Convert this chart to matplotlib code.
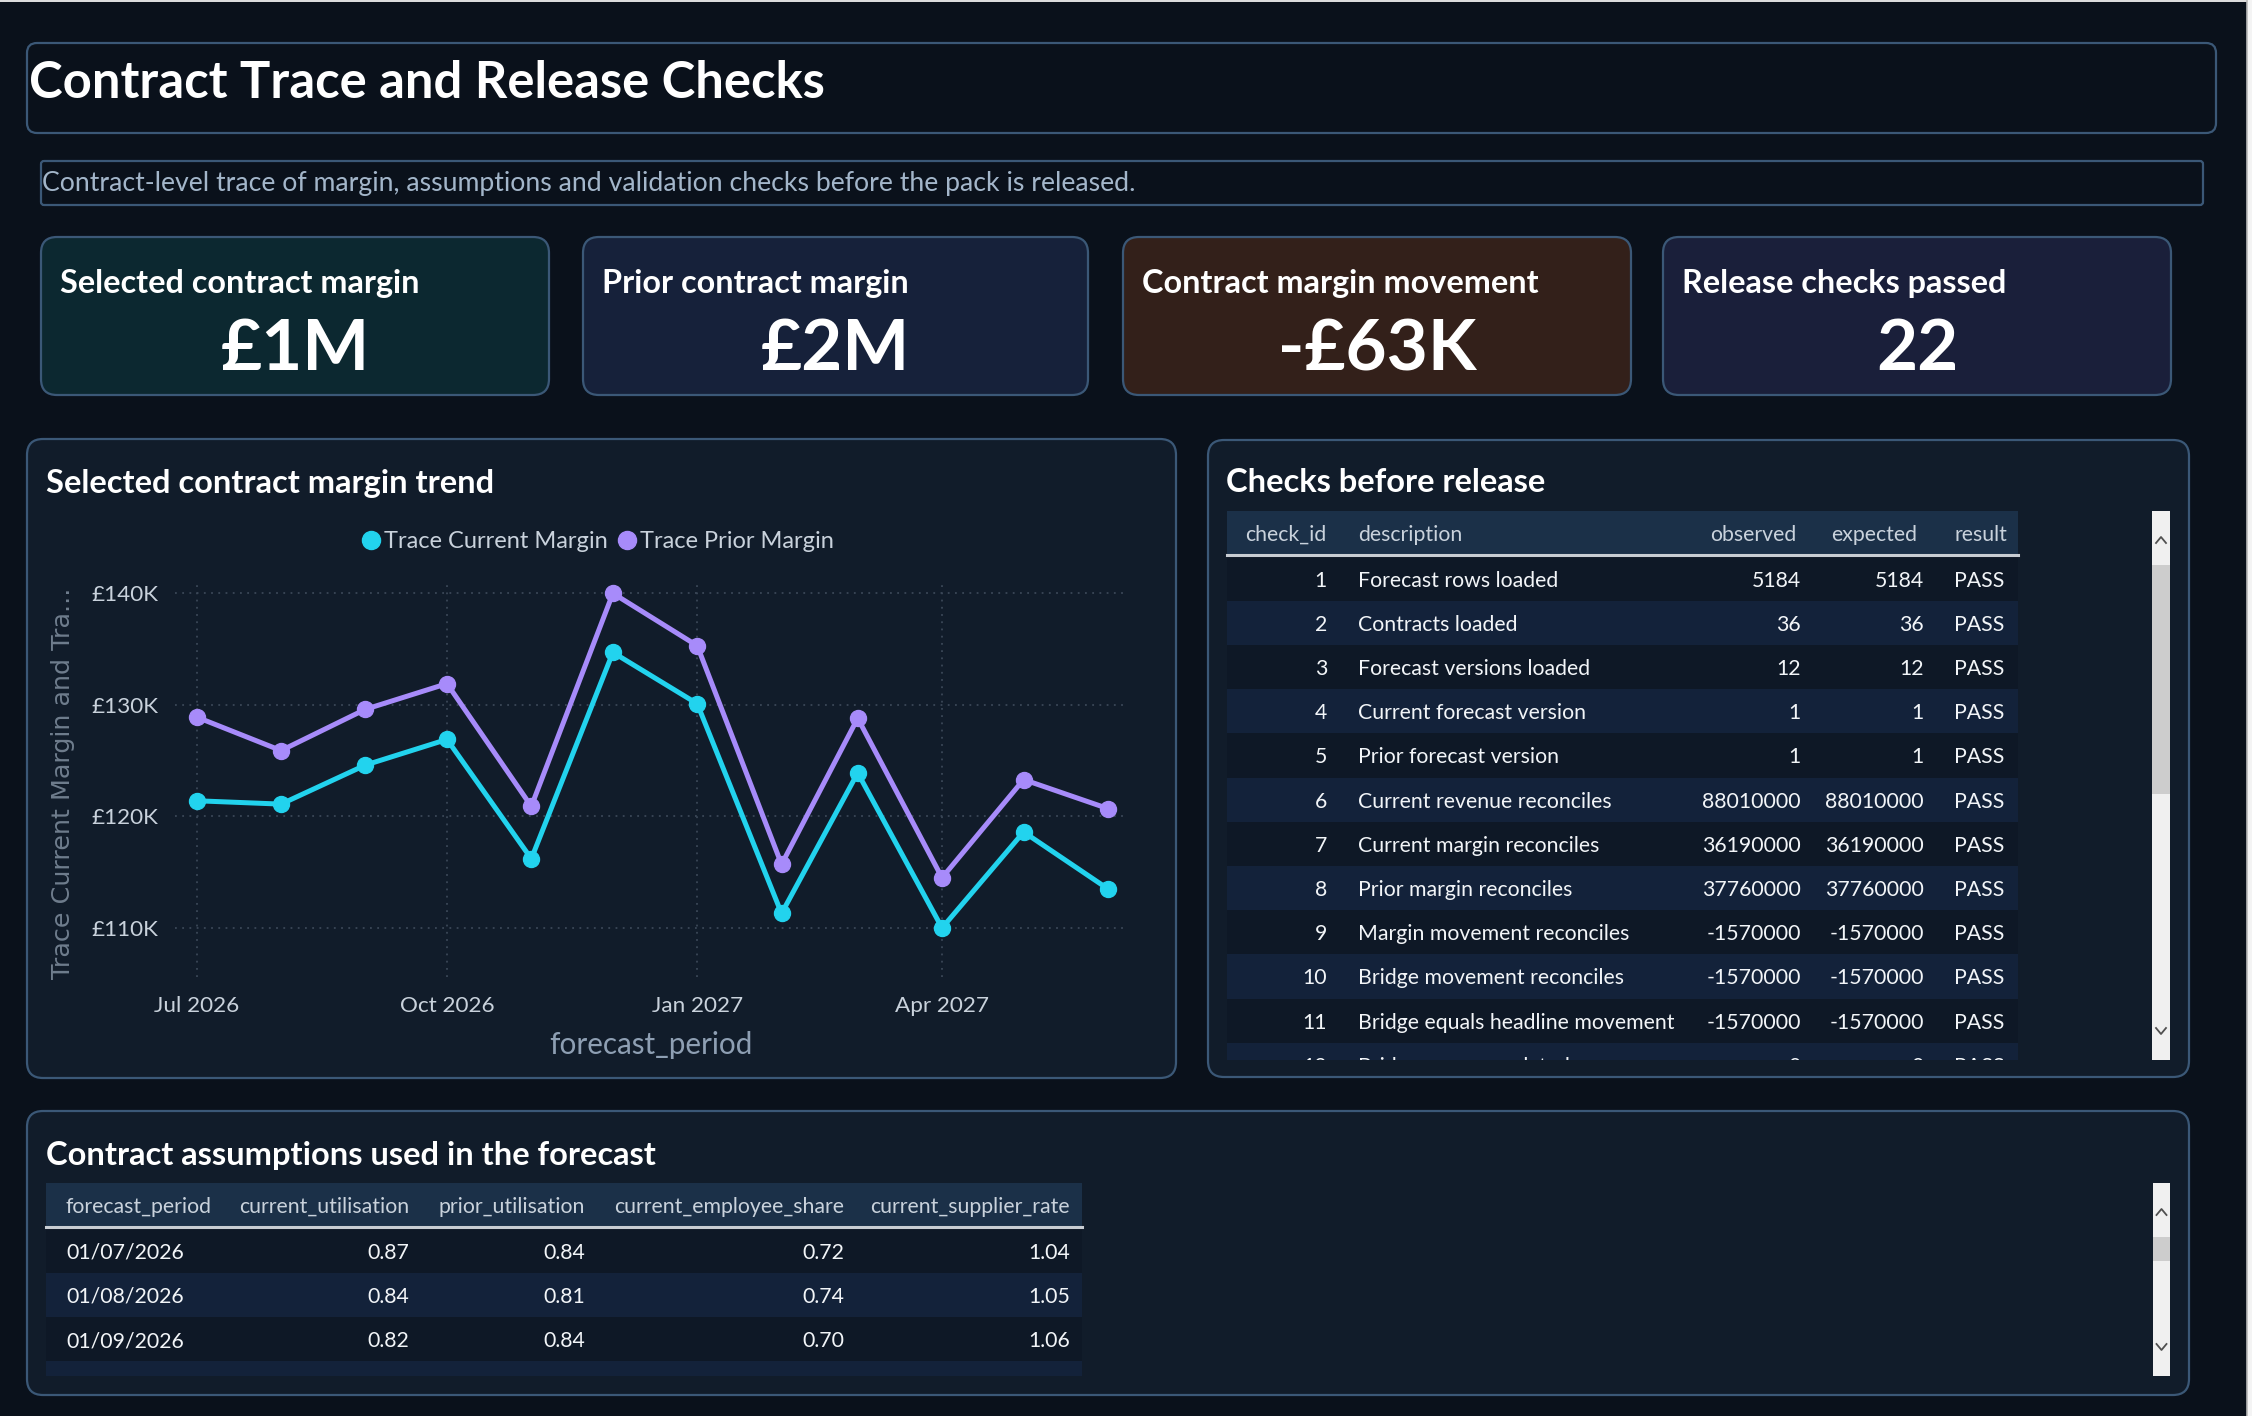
import matplotlib
matplotlib.use("Agg")
import matplotlib.pyplot as plt
import matplotlib.dates as mdates
from matplotlib.patches import FancyBboxPatch, Rectangle
from matplotlib.lines import Line2D
from matplotlib.ticker import FuncFormatter, MultipleLocator
import datetime as dt

# ---------------- data ----------------
title = "Contract Trace and Release Checks"
subtitle = "Contract-level trace of margin, assumptions and validation checks before the pack is released."

kpi_labels = ["Selected contract margin", "Prior contract margin", "Contract margin movement", "Release checks passed"]
kpi_values = ["£1M", "£2M", "-£63K", "22"]

periods = ["2026-07-01", "2026-08-01", "2026-09-01", "2026-10-01", "2026-11-01", "2026-12-01",
           "2027-01-01", "2027-02-01", "2027-03-01", "2027-04-01", "2027-05-01", "2027-06-01"]
current_margin = [121400, 121100, 124600, 126900, 116200, 134700, 130100, 111300, 123900, 110000, 118600, 113500]
prior_margin = [128900, 125900, 129600, 131900, 120900, 140000, 135300, 115700, 128800, 114500, 123300, 120700]

check_cols = ["check_id", "description", "observed", "expected", "result"]
check_ids = [1, 2, 3, 4, 5, 6, 7, 8, 9, 10, 11, 12]
check_desc = ["Forecast rows loaded", "Contracts loaded", "Forecast versions loaded", "Current forecast version",
              "Prior forecast version", "Current revenue reconciles", "Current margin reconciles",
              "Prior margin reconciles", "Margin movement reconciles", "Bridge movement reconciles",
              "Bridge equals headline movement", "Bridge rows populated"]
check_observed = [5184, 36, 12, 1, 1, 88010000, 36190000, 37760000, -1570000, -1570000, -1570000, 0]
check_expected = [5184, 36, 12, 1, 1, 88010000, 36190000, 37760000, -1570000, -1570000, -1570000, 0]
check_result = ["PASS"] * 12

assump_cols = ["forecast_period", "current_utilisation", "prior_utilisation", "current_employee_share", "current_supplier_rate"]
assump_period = ["01/07/2026", "01/08/2026", "01/09/2026"]
assump_cur_util = [0.87, 0.84, 0.82]
assump_prior_util = [0.84, 0.81, 0.84]
assump_emp_share = [0.72, 0.74, 0.70]
assump_supplier = [1.04, 1.05, 1.06]

# ---------------- style ----------------
W, H = 2252, 1416
FONT = ["Lato", "DejaVu Sans"]
plt.rcParams["font.family"] = FONT

BG = "#0a111b"
PANEL = "#111c2a"
BORDER = "#3b5877"
CARD_COLORS = ["#0c2830", "#16213a", "#33201a", "#1a1f3a"]
CYAN = "#22d3ee"
PURPLE = "#a78bfa"
HEADER_BG = "#1b3048"
ROW_A = "#0e1826"
ROW_B = "#13223a"
TXT = "#f2f5f8"
TXT_DIM = "#c9d2dc"
GRAY = "#6f7d8d"
TBL_FS = 15.3

fig = plt.figure(figsize=(W / 100, H / 100), dpi=100, facecolor=BG)
bg = fig.add_axes([0, 0, 1, 1], zorder=0)
bg.set_xlim(0, W)
bg.set_ylim(H, 0)
bg.axis("off")


def rbox(x0, y0, x1, y1, fc, ec=BORDER, r=14, lw=1.6, z=1):
    p = FancyBboxPatch((x0, y0), x1 - x0, y1 - y0, boxstyle=f"round,pad=0,rounding_size={r}",
                       fc=fc, ec=ec, lw=lw, zorder=z)
    bg.add_patch(p)
    return p


# page edges
bg.add_patch(Rectangle((2247, 0), 5, H, fc="#f4f4f4", ec="none", zorder=0.5))
bg.plot([2247, 2247], [0, H], color="#b8b8b8", lw=1.2, zorder=0.6)
bg.add_patch(Rectangle((0, 0), 2247, 2, fc="#dcdcdc", ec="none", zorder=0.5))

# title
rbox(27, 43, 2216, 133, BG, r=10)
bg.text(29, 84, title, color="white", fontsize=36.5, fontweight="bold", va="center", ha="left", zorder=3)

# subtitle
rbox(41, 161, 2203, 205, BG, r=3)
bg.text(42, 184, subtitle, color="#a3b6ca", fontsize=19.2, va="center", ha="left", zorder=3)

# KPI cards
card_x = [(41, 549), (583, 1088), (1123, 1631), (1663, 2171)]
for (x0, x1), fc, lab, val in zip(card_x, CARD_COLORS, kpi_labels, kpi_values):
    rbox(x0, 237, x1, 395, fc, r=16)
    bg.text(x0 + 19, 283, lab, color="white", fontsize=23.3, fontweight="bold", va="center", ha="left", zorder=3)
    bg.text((x0 + x1) / 2, 350, val, color="white", fontsize=51, fontweight="bold", va="center", ha="center", zorder=3)

# chart panel
rbox(27, 439, 1176, 1078, PANEL, r=16)
bg.text(46, 484, "Selected contract margin trend", color="white", fontsize=23.5, fontweight="bold",
        va="center", ha="left", zorder=3)

# checks panel
rbox(1208, 440, 2189, 1077, PANEL, r=16)
bg.text(1226, 483, "Checks before release", color="white", fontsize=23.5, fontweight="bold",
        va="center", ha="left", zorder=3)

# assumptions panel
rbox(27, 1111, 2189, 1395, PANEL, r=16)
bg.text(46, 1155, "Contract assumptions used in the forecast", color="white", fontsize=23.5, fontweight="bold",
        va="center", ha="left", zorder=3)

# ---------------- line chart ----------------
ax0, ax1, ay0, ay1 = 175, 1127, 583.6, 977
ax = fig.add_axes([ax0 / W, 1 - ay1 / H, (ax1 - ax0) / W, (ay1 - ay0) / H], zorder=5)
ax.set_facecolor("none")
dates = [dt.datetime.strptime(p, "%Y-%m-%d") for p in periods]
ax.plot(dates, current_margin, color=CYAN, lw=3.6, marker="o", ms=11.5, zorder=4, label="Trace Current Margin")
ax.plot(dates, prior_margin, color=PURPLE, lw=3.6, marker="o", ms=11.5, zorder=3, label="Trace Prior Margin")
ax.set_xlim(dt.datetime(2026, 6, 23), dt.datetime(2027, 6, 8))
ax.set_ylim(105600, 140870)
ax.yaxis.set_major_locator(MultipleLocator(10000))
ax.yaxis.set_major_formatter(FuncFormatter(lambda v, p: f"£{v/1000:.0f}K"))
ax.xaxis.set_major_locator(mdates.MonthLocator(bymonth=[1, 4, 7, 10]))
ax.xaxis.set_major_formatter(mdates.DateFormatter("%b %Y"))
ax.grid(True, color="#3a4757", linestyle=(0, (1, 3)), lw=1.3)
for s in ax.spines.values():
    s.set_visible(False)
ax.tick_params(length=0, colors=TXT_DIM, labelsize=16.2)
ax.tick_params(axis="y", pad=12)
ax.tick_params(axis="x", pad=14)
ax.set_xlabel("forecast_period", color="#8e9fb3", fontsize=21.3)
ax.xaxis.set_label_coords(0.5, -(1045 - ay1) / (ay1 - ay0))
ax.xaxis.label.set_va("center")
ax.set_ylabel("Trace Current Margin and Tra...", color=GRAY, fontsize=18.3, family=["DejaVu Sans"])
ax.yaxis.set_label_coords(-(ax0 - 63) / (ax1 - ax0), (ay1 - 783) / (ay1 - ay0))
ax.yaxis.label.set_va("center")
handles = [Line2D([], [], color=CYAN, marker="o", ls="none", ms=13),
           Line2D([], [], color=PURPLE, marker="o", ls="none", ms=13)]
leg = ax.legend(handles, ["Trace Current Margin", "Trace Prior Margin"], loc="center",
                bbox_to_anchor=((598 - ax0) / (ax1 - ax0), (ay1 - 541.5) / (ay1 - ay0)),
                ncol=2, frameon=False, fontsize=17, labelcolor=TXT_DIM, handlelength=0.7,
                handletextpad=0.2, columnspacing=0.45)

# ---------------- checks table ----------------
tx0, tx1 = 1227, 2018
hy0, hy1 = 511, 555
row_h = 44.2
clip_y = 1060
clip_rect = Rectangle((tx0, hy0), tx1 - tx0, clip_y - hy0, transform=bg.transData, fc="none", ec="none")
bg.add_patch(Rectangle((tx0, hy0), tx1 - tx0, hy1 - hy0, fc=HEADER_BG, ec="none", zorder=2))
bg.plot([tx0, tx1], [hy1, hy1], color="#c8cdd3", lw=2.2, zorder=3)
hdr_pos = [(1326, "right"), (1358, "left"), (1796, "right"), (1917, "right"), (1954, "left")]
for (hx, ha), name in zip(hdr_pos, check_cols):
    bg.text(hx, (hy0 + hy1) / 2 + 2, name, color=TXT_DIM, fontsize=TBL_FS, ha=ha, va="center", zorder=3)
col_pos = [(1327, "right"), (1358, "left"), (1801, "right"), (1924, "right"), (1954, "left")]
for i, (cid, desc, obs, exp, res) in enumerate(zip(check_ids, check_desc, check_observed, check_expected, check_result)):
    ry = hy1 + 1.5 + i * row_h
    hh = min(row_h, clip_y - ry)
    bg.add_patch(Rectangle((tx0, ry), tx1 - tx0, hh, fc=ROW_A if i % 2 == 0 else ROW_B, ec="none", zorder=2))
    for (cx, ha), v in zip(col_pos, [cid, desc, obs, exp, res]):
        t = bg.text(cx, ry + row_h / 2 + 2, str(v), color=TXT, fontsize=TBL_FS, ha=ha, va="center", zorder=3,
                    clip_on=True)
        t.set_clip_path(clip_rect)


def scrollbar(x0, x1, y0, y1, th0, th1):
    bg.add_patch(Rectangle((x0, y0), x1 - x0, y1 - y0, fc="#f0f0f0", ec="none", zorder=3))
    bg.add_patch(Rectangle((x0, th0), x1 - x0, th1 - th0, fc="#cdcdcd", ec="none", zorder=4))
    cx = (x0 + x1) / 2
    bg.plot([cx - 5, cx, cx + 5], [y0 + 32, y0 + 26, y0 + 32], color="#505050", lw=1.3, zorder=5)
    bg.plot([cx - 5, cx, cx + 5], [y1 - 32, y1 - 26, y1 - 32], color="#505050", lw=1.3, zorder=5)


scrollbar(2152, 2170, 511, 1060, 565, 794)

# ---------------- assumptions table ----------------
bx0, bx1 = 46, 1082
bh0, bh1 = 1183, 1227
brow_h = 44.3
bg.add_patch(Rectangle((bx0, bh0), bx1 - bx0, bh1 - bh0, fc=HEADER_BG, ec="none", zorder=2))
bg.plot([bx0, bx1], [bh1, bh1], color="#c8cdd3", lw=2.2, zorder=3)
bcol_pos = [(66, "left"), (409, "right"), (585, "right"), (844, "right"), (1070, "right")]
for (hx, ha), name in zip(bcol_pos, assump_cols):
    bg.text(hx, (bh0 + bh1) / 2 + 2, name, color=TXT_DIM, fontsize=TBL_FS, ha=ha, va="center", zorder=3)
for i, vals in enumerate(zip(assump_period, assump_cur_util, assump_prior_util, assump_emp_share, assump_supplier)):
    ry = bh1 + 1.5 + i * brow_h
    bg.add_patch(Rectangle((bx0, ry), bx1 - bx0, brow_h, fc=ROW_A if i % 2 == 0 else ROW_B, ec="none", zorder=2))
    for j, ((cx, ha), v) in enumerate(zip(bcol_pos, vals)):
        s = v if j == 0 else f"{v:.2f}"
        bg.text(cx, ry + brow_h / 2 + 2, s, color=TXT, fontsize=TBL_FS, ha=ha, va="center", zorder=3)
# partially visible next row
ry = bh1 + 1.5 + 3 * brow_h
bg.add_patch(Rectangle((bx0, ry), bx1 - bx0, 1376 - ry, fc=ROW_B, ec="none", zorder=2))

scrollbar(2153, 2170, 1183, 1376, 1237, 1261)

fig.savefig("out.png", dpi=100, facecolor=BG)
